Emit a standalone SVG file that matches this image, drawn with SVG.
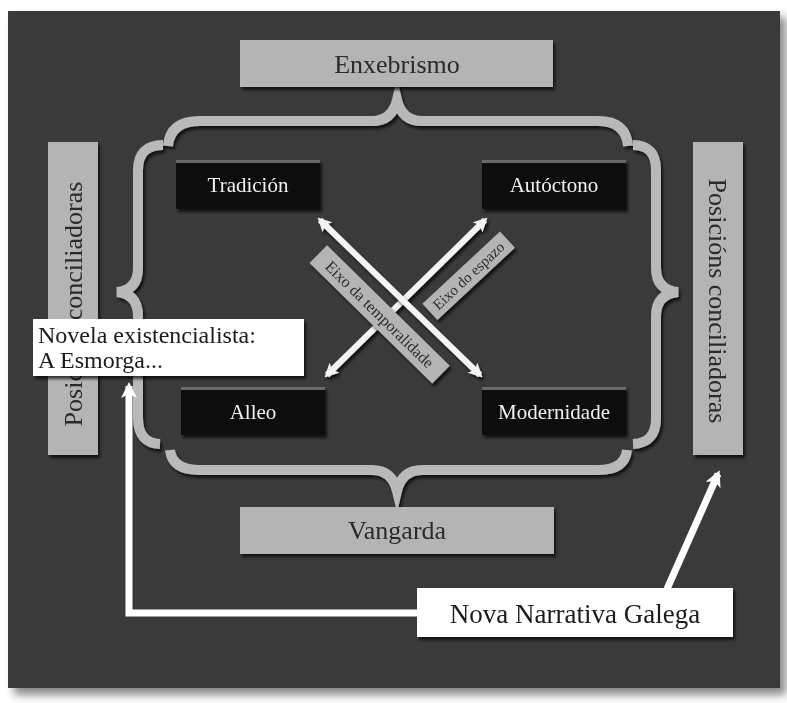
<svg xmlns="http://www.w3.org/2000/svg" width="787" height="703" viewBox="0 0 787 703">
<style>
.serif{font-family:"Liberation Serif","DejaVu Serif",serif}
.grey{fill:#b4b4b4}
.blk{fill:#0b0b0b}
.wht{fill:#ffffff}
.tg{fill:#2a2a2a}
.tw{fill:#f2f2f2}
.tb{fill:#1a1a1a}
.brace{fill:none;stroke:#b9b9b9;stroke-width:10;stroke-linejoin:miter;stroke-miterlimit:10}
.axis{fill:none;stroke:#f4f4f4;stroke-width:6}
.conn{fill:none;stroke:#ffffff;stroke-width:7}
</style>
<defs>
<filter id="sh" x="-20%" y="-20%" width="140%" height="140%">
<feDropShadow dx="2" dy="3" stdDeviation="1.8" flood-color="#000" flood-opacity="0.7"/>
</filter>
<filter id="pageSh" x="-5%" y="-5%" width="110%" height="110%">
<feGaussianBlur stdDeviation="4"/>
</filter>
<marker id="ah" viewBox="0 0 12 12" refX="9" refY="6" markerWidth="14" markerHeight="14" markerUnits="userSpaceOnUse" orient="auto-start-reverse">
<path d="M0,0 L12,6 L0,12 L3,6 z" fill="#f4f4f4"/>
</marker>
<marker id="ahc" viewBox="0 0 12 12" refX="9" refY="6" markerWidth="16" markerHeight="16" markerUnits="userSpaceOnUse" orient="auto">
<path d="M0,0 L12,6 L0,12 L3,6 z" fill="#ffffff"/>
</marker>
</defs>

<rect x="0" y="0" width="787" height="703" fill="#ffffff"/>
<rect x="14" y="17" width="772" height="678" fill="#8a8a8a" filter="url(#pageSh)"/>
<rect x="8" y="11" width="772" height="677" fill="#3a3a3a"/>

<g id="braces" filter="url(#sh)">
<path class="brace" d="M168,146 Q170,121 200,121 L372,121 Q392,121 397,100 Q402,121 422,121 L598,121 Q626,121 628,146"/>
<path class="brace" d="M163,145 Q138,145 138,170 L138,268 Q138,290 117,292 Q138,294 138,316 L138,418 Q138,443 160,444"/>
<path class="brace" d="M633,145 Q656,145 656,170 L656,268 Q656,290 678,292 Q656,294 656,316 L656,418 Q656,443 633,444"/>
<path class="brace" d="M170,450 Q172,470 200,470 L372,470 Q392,470 397,491 Q402,470 422,470 L598,470 Q625,470 627,450"/>
</g>

<g id="enxebrismo" filter="url(#sh)">
<rect class="grey" x="240" y="40" width="313" height="47"/>
<text class="serif tg" x="397" y="73" font-size="26" text-anchor="middle">Enxebrismo</text>
</g>
<g id="vangarda" filter="url(#sh)">
<rect class="grey" x="240" y="507" width="314" height="47"/>
<text class="serif tg" x="397" y="539" font-size="26" text-anchor="middle">Vangarda</text>
</g>
<g id="posicions-esquerda" filter="url(#sh)">
<rect class="grey" x="48" y="142" width="50" height="313"/>
<text class="serif tg" transform="translate(82,304) rotate(-90)" font-size="26" text-anchor="middle">Posicións conciliadoras</text>
</g>
<g id="posicions-dereita" filter="url(#sh)">
<rect class="grey" x="693" y="142" width="50" height="313"/>
<text class="serif tg" transform="translate(709,301) rotate(90)" font-size="26" text-anchor="middle">Posicións conciliadoras</text>
</g>

<g id="tradicion" filter="url(#sh)">
<rect class="blk" x="176" y="160" width="144" height="49"/>
<rect x="176" y="160" width="144" height="3" fill="#6a6a6a"/>
<text class="serif tw" x="248" y="192" font-size="21" text-anchor="middle">Tradición</text>
</g>
<g id="autoctono" filter="url(#sh)">
<rect class="blk" x="482" y="160" width="144" height="49"/>
<rect x="482" y="160" width="144" height="3" fill="#6a6a6a"/>
<text class="serif tw" x="554" y="192" font-size="21" text-anchor="middle">Autóctono</text>
</g>
<g id="alleo" filter="url(#sh)">
<rect class="blk" x="181" y="387" width="144" height="48"/>
<rect x="181" y="387" width="144" height="3" fill="#6a6a6a"/>
<text class="serif tw" x="253" y="419" font-size="21" text-anchor="middle">Alleo</text>
</g>
<g id="modernidade" filter="url(#sh)">
<rect class="blk" x="482" y="387" width="144" height="48"/>
<rect x="482" y="387" width="144" height="3" fill="#6a6a6a"/>
<text class="serif tw" x="554" y="419" font-size="21" text-anchor="middle">Modernidade</text>
</g>

<g id="connectors">
<line class="axis" x1="327" y1="375" x2="485" y2="220" marker-start="url(#ah)" marker-end="url(#ah)" filter="url(#sh)"/>
<line class="axis" x1="320" y1="220" x2="480" y2="375" marker-start="url(#ah)" marker-end="url(#ah)" filter="url(#sh)"/>
<path class="conn" d="M417,613 L129,613 L129,386" marker-end="url(#ahc)"/>
<path class="conn" d="M667,589 L718,474" marker-end="url(#ahc)"/>
</g>

<g id="eixo-temporalidade" filter="url(#sh)">
<g transform="translate(380,314) rotate(44.5)">
<rect class="grey" x="-86" y="-12" width="172" height="25"/>
<text class="serif tg" x="0" y="6" font-size="16" text-anchor="middle">Eixo da temporalidade</text>
</g>
</g>
<g id="eixo-espazo" filter="url(#sh)">
<g transform="translate(468,275) rotate(-43)">
<rect class="grey" x="-53" y="-10" width="106" height="22"/>
<text class="serif tg" x="0" y="6" font-size="15" text-anchor="middle">Eixo do espazo</text>
</g>
</g>

<g id="novela-existencialista" filter="url(#sh)">
<rect class="wht" x="33" y="319" width="271" height="57"/>
<text class="serif tb" x="38" y="343" font-size="24">Novela existencialista:</text>
<text class="serif tb" x="38" y="368" font-size="24">A Esmorga...</text>
</g>
<g id="nova-narrativa-galega" filter="url(#sh)">
<rect class="wht" x="417" y="588" width="316" height="49"/>
<text class="serif tb" x="575" y="623" font-size="27" text-anchor="middle">Nova Narrativa Galega</text>
</g>
</svg>
